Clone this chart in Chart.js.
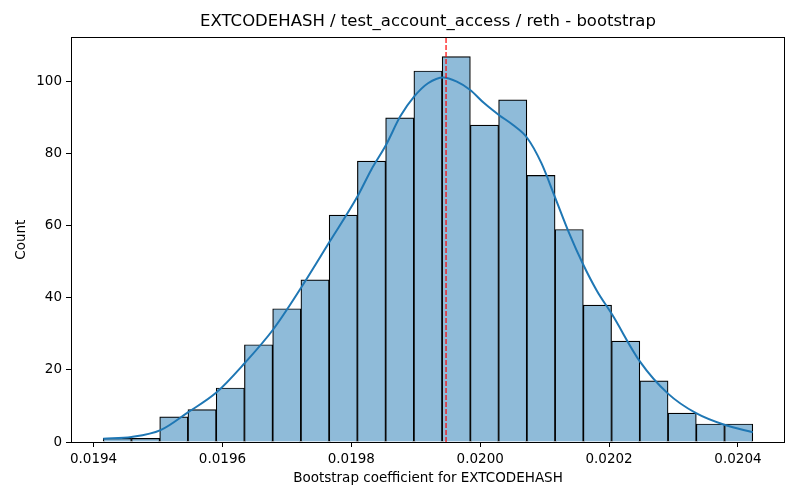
<!DOCTYPE html>
<html>
<head>
<meta charset="utf-8">
<script src="https://cdn.jsdelivr.net/npm/chart.js@4.4.1/dist/chart.umd.min.js"></script>
<style>
  body { margin: 0; background: #fff; }
  canvas { display: block; }
</style>
</head>
<body>
<canvas id="histChart" width="800" height="500"></canvas>
<script>
// histogram bins
const binLo = 0.019415;
const binHi = 0.020423;
const counts = [1, 1, 7, 9, 15, 27, 37, 45, 63, 78, 90, 103, 107, 88, 95, 74, 59, 38, 28, 17, 8, 5, 5];

// kde curve, sampled by eye
const kdeX = [0.019415, 0.019459, 0.019504, 0.019547, 0.019591, 0.019634, 0.019679, 0.019722,
              0.019766, 0.019809, 0.019831, 0.019854, 0.019876, 0.019898, 0.019919, 0.019943,
              0.019963, 0.019984, 0.020006, 0.020029, 0.020051, 0.020073, 0.020095, 0.020116,
              0.020138, 0.020160, 0.020181, 0.020205, 0.020248, 0.020291, 0.020335, 0.020380, 0.020423];
const kdeY = [0.9, 1.4, 3.3, 8.3, 13.8, 21.8, 31.3, 42.8,
              55.5, 68, 75.6, 82.5, 90.4, 96, 99.6, 101.2,
              100.1, 97.8, 94.1, 90.8, 88, 84.4, 77.4, 68,
              58, 49.2, 42, 35.3, 22.3, 13.5, 8, 4.7, 2.7];

const meanLine = 0.019947;

const xTicks = [0.0194, 0.0196, 0.0198, 0.0200, 0.0202, 0.0204];
const yTicks = [0, 20, 40, 60, 80, 100];

const titleText = 'EXTCODEHASH / test_account_access / reth - bootstrap';

const binW = (binHi - binLo) / counts.length;
const barData = counts.map(function(c, i) {
    return { x: binLo + binW * (i + 0.5), y: c };
});
const kdeData = kdeX.map(function(x, i) { return { x: x, y: kdeY[i] }; });

const yMax = 112.35;
const font = 'DejaVu Sans';

// matplotlib-style box round the axes, title centred over the axes
const frame = {
    id: 'frame',
    afterDatasetsDraw(chart) {
        const a = chart.chartArea;
        const ctx = chart.ctx;
        ctx.save();
        ctx.strokeStyle = '#000';
        ctx.lineWidth = 1;
        ctx.strokeRect(Math.round(a.left) + 0.5, Math.round(a.top) + 0.5,
                       Math.round(a.right - a.left) - 1, Math.round(a.bottom - a.top));
        ctx.fillStyle = '#000';
        ctx.font = '16.5px "' + font + '"';
        ctx.textAlign = 'center';
        ctx.textBaseline = 'middle';
        ctx.fillText(titleText, (a.left + a.right) / 2, 22);
        ctx.restore();
    }
};

const ctx = document.getElementById('histChart').getContext('2d');
new Chart(ctx, {
    type: 'bar',
    data: {
        datasets: [{
            type: 'line',
            data: [{ x: meanLine, y: 0 }, { x: meanLine, y: yMax }],
            borderColor: '#ff0000',
            borderWidth: 1.2,
            borderDash: [5, 2],
            pointRadius: 0,
            order: 0
        }, {
            type: 'line',
            data: kdeData,
            borderColor: '#1f77b4',
            borderWidth: 2,
            pointRadius: 0,
            cubicInterpolationMode: 'monotone',
            order: 1
        }, {
            type: 'bar',
            data: barData,
            backgroundColor: '#8fbbd9',
            borderColor: '#000',
            borderWidth: 1.2,
            barPercentage: 1,
            categoryPercentage: 1,
            order: 2
        }]
    },
    options: {
        responsive: false,
        animation: false,
        devicePixelRatio: 1,
        layout: { padding: { left: 0, right: 15, top: 37.3, bottom: 0 } },
        plugins: {
            legend: { display: false },
            tooltip: { enabled: false },
            title: { display: false }
        },
        scales: {
            x: {
                type: 'linear',
                offset: false,
                min: 0.019365,
                max: 0.020473,
                afterBuildTicks: function(s) { s.ticks = xTicks.map(function(v) { return { value: v }; }); },
                afterFit: function(s) { s.height = 58; },
                ticks: {
                    color: '#000',
                    font: { family: font, size: 13.5 },
                    padding: 4,
                    maxRotation: 0,
                    autoSkip: false,
                    callback: function(v) { return v.toFixed(4); }
                },
                grid: { offset: false, drawOnChartArea: false, drawTicks: true, tickLength: 5, color: '#000' },
                border: { display: false },
                title: {
                    display: true,
                    text: 'Bootstrap coefficient for EXTCODEHASH',
                    color: '#000',
                    font: { family: font, size: 13.5 },
                    padding: { top: 0, bottom: 13 }
                }
            },
            y: {
                min: 0,
                max: yMax,
                afterBuildTicks: function(s) { s.ticks = yTicks.map(function(v) { return { value: v }; }); },
                afterFit: function(s) { s.width = 71; },
                ticks: {
                    color: '#000',
                    font: { family: font, size: 13.5 },
                    padding: 4
                },
                grid: { drawOnChartArea: false, drawTicks: true, tickLength: 5, color: '#000' },
                border: { display: false },
                title: {
                    display: true,
                    text: 'Count',
                    color: '#000',
                    font: { family: font, size: 13.5 },
                    padding: { top: 13.5, bottom: 0 }
                }
            }
        }
    },
    plugins: [frame]
});
</script>
</body>
</html>
